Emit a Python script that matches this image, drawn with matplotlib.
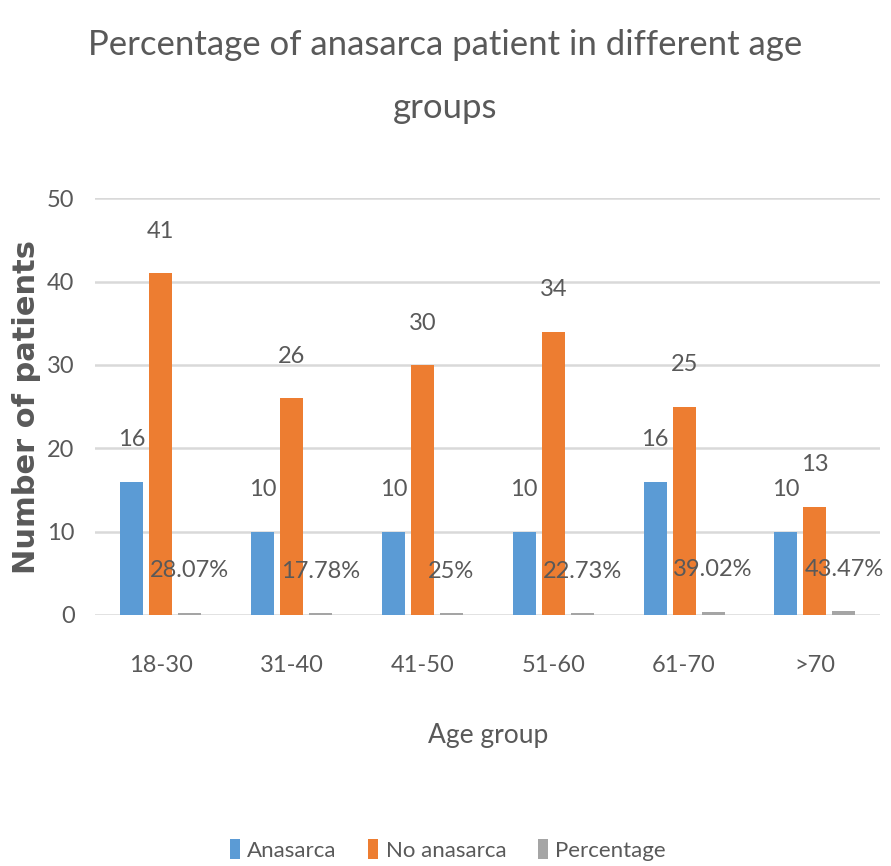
import numpy as np
import matplotlib
matplotlib.use("Agg")
from matplotlib import pyplot as plt

# data
age_groups = ['18-30', '31-40', '41-50', '51-60', '61-70', '>70']
anasarca = [16, 10, 10, 10, 16, 10]
no_anasarca = [41, 26, 30, 34, 25, 13]
percentage = [28.07, 17.78, 25, 22.73, 39.02, 43.47]
percentage_labels = ['28.07%', '17.78%', '25%', '22.73%', '39.02%', '43.47%']

plt.rcParams['font.family'] = ['Lato', 'DejaVu Sans']
text_color = '#595959'

fig = plt.figure(figsize=(8.91, 8.66), dpi=100)
ax = fig.add_axes([0.107, 0.290, 0.881, 0.481])

x = np.arange(len(age_groups))
width = 0.176
step = 0.222

# percentage plotted as a fraction on the patient axis, like the original sheet
pct_frac = [p / 100 for p in percentage]

b1 = ax.bar(x - step, anasarca, width, color='#5B9BD5', label='Anasarca', zorder=3)
b2 = ax.bar(x, no_anasarca, width, color='#ED7D31', label='No anasarca', zorder=3)
b3 = ax.bar(x + step, pct_frac, width, color='#A5A5A5', label='Percentage', zorder=3)

for bars, labels in [(b1, anasarca), (b2, no_anasarca), (b3, percentage_labels)]:
    for rect, lab in zip(bars, labels):
        ax.annotate(str(lab), (rect.get_x() + rect.get_width() / 2, rect.get_height()),
                    xytext=(0, 30), textcoords='offset points', ha='center', va='center',
                    fontsize=17, color=text_color, zorder=4)

ax.set_xlim(-0.5, len(age_groups) - 0.5)
ax.set_ylim(0, 50)
ax.set_yticks(range(0, 51, 10))
ax.set_xticks(x)
ax.set_xticklabels(age_groups)
ax.tick_params(axis='both', length=0, labelsize=17, labelcolor=text_color)
ax.tick_params(axis='x', pad=29)
ax.tick_params(axis='y', pad=15)
ax.grid(axis='y', color='#D9D9D9', linewidth=1.8, zorder=0)
for s in ax.spines.values():
    s.set_visible(False)

ax.set_xlabel('Age group', fontsize=19, color=text_color, labelpad=34)
ax.set_ylabel('Number of patients', fontsize=22, color=text_color, fontweight='bold',
              family='DejaVu Sans', labelpad=4)

fig.text(0.5, 0.912, 'Percentage of anasarca patient in different age\ngroups',
         ha='center', va='center', fontsize=25, color=text_color, linespacing=2.2)

ax.legend(loc='center', bbox_to_anchor=(0.449, -0.564), ncol=3, frameon=False,
          fontsize=16, labelcolor=text_color, handlelength=0.45, handleheight=1.0,
          handletextpad=0.35, columnspacing=1.4)

fig.savefig('out.png', dpi=100)
